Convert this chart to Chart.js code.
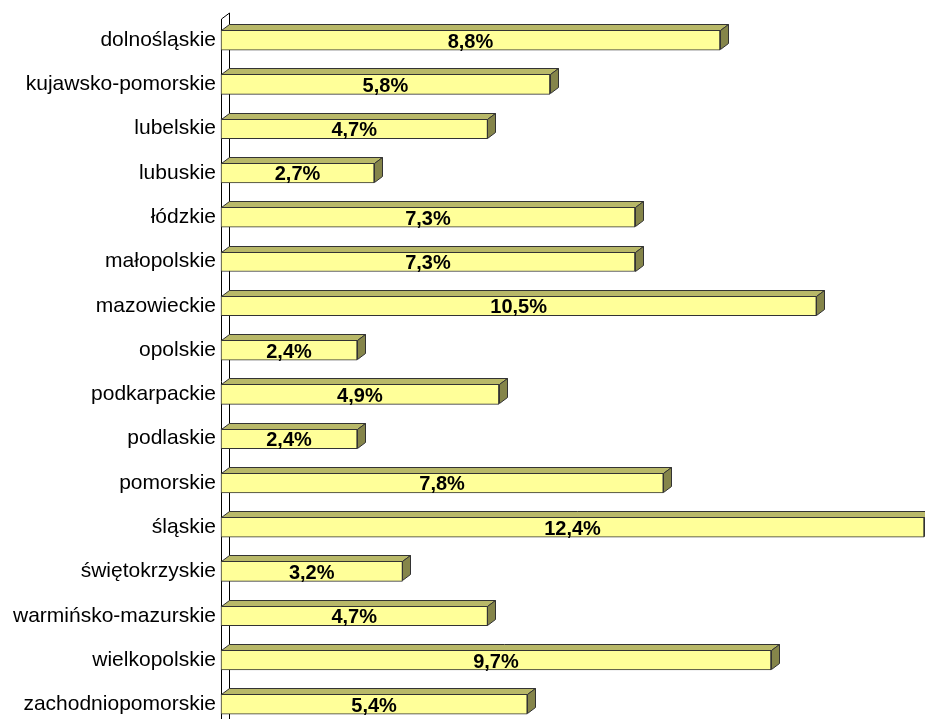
<!DOCTYPE html>
<html>
<head>
<meta charset="utf-8">
<script src="https://cdn.jsdelivr.net/npm/chart.js@4/dist/chart.umd.min.js"></script>
<style>
html,body{margin:0;padding:0;background:#fff;overflow:hidden;}
#wrap{width:925px;height:744px;}
</style>
</head>
<body>
<div id="wrap"><canvas id="c" width="925" height="744"></canvas></div>
<script>
const categories = ['dolnośląskie','kujawsko-pomorskie','lubelskie','lubuskie','łódzkie','małopolskie','mazowieckie','opolskie','podkarpackie','podlaskie','pomorskie','śląskie','świętokrzyskie','warmińsko-mazurskie','wielkopolskie','zachodniopomorskie'];
const values = [8.8,5.8,4.7,2.7,7.3,7.3,10.5,2.4,4.9,2.4,7.8,12.4,3.2,4.7,9.7,5.4];
const xMin = 0;
const xMax = 12.4;

const DX = 8, DY = 6;
const FRONT = '#FFFF99', TOP = '#B8B868', SIDE = '#85854A', EDGE = '#333333';

const wallPlugin = {
  id: 'wall',
  beforeDatasetsDraw(chart) {
    const ctx = chart.ctx, a = chart.chartArea;
    const x0 = a.left, yTop = a.top + 1;
    ctx.save();
    ctx.strokeStyle = '#000';
    ctx.lineWidth = 1;
    ctx.beginPath();
    ctx.moveTo(x0 + 0.5, chart.height);
    ctx.lineTo(x0 + 0.5, yTop);
    ctx.lineTo(x0 + DX + 0.5, yTop - DY);
    ctx.lineTo(x0 + DX + 0.5, chart.height);
    ctx.stroke();
    ctx.restore();
  }
};

const bar3dPlugin = {
  id: 'bar3d',
  afterDatasetsDraw(chart) {
    const ctx = chart.ctx;
    const meta = chart.getDatasetMeta(0);
    ctx.save();
    ctx.lineWidth = 1;
    ctx.strokeStyle = EDGE;
    meta.data.forEach((bar, i) => {
      const p = bar.getProps(['x','y','base','height'], true);
      const xb = Math.round(p.base) + 0.5, xv = Math.round(p.x) + 0.5;
      const yt = Math.round(p.y - p.height / 2) + 0.5, yb = Math.round(p.y + p.height / 2) - 0.5;
      ctx.beginPath();
      ctx.moveTo(xb, yt);
      ctx.lineTo(xv, yt);
      ctx.lineTo(xv + DX, yt - DY);
      ctx.lineTo(xb + DX, yt - DY);
      ctx.closePath();
      ctx.fillStyle = TOP; ctx.fill(); ctx.stroke();
      ctx.beginPath();
      ctx.moveTo(xv, yt);
      ctx.lineTo(xv + DX, yt - DY);
      ctx.lineTo(xv + DX, yb - DY);
      ctx.lineTo(xv, yb);
      ctx.closePath();
      ctx.fillStyle = SIDE; ctx.fill(); ctx.stroke();
      ctx.fillStyle = '#000';
      ctx.font = 'bold 20px "Liberation Sans", Arial, sans-serif';
      ctx.textAlign = 'center';
      ctx.textBaseline = 'middle';
      const txt = values[i].toFixed(1).replace('.', ',') + '%';
      ctx.fillText(txt, (p.base + p.x) / 2, p.y + 2);
    });
    ctx.restore();
  }
};

new Chart(document.getElementById('c'), {
  type: 'bar',
  data: {
    labels: categories,
    datasets: [{
      data: values,
      backgroundColor: FRONT,
      borderColor: EDGE,
      borderWidth: 1,
      borderSkipped: false,
      barThickness: 20,
      clip: false
    }]
  },
  options: {
    indexAxis: 'y',
    responsive: false,
    animation: false,
    devicePixelRatio: 1,
    layout: { padding: { top: 18, bottom: 2, left: 0, right: 1 } },
    plugins: { legend: { display: false }, tooltip: { enabled: false } },
    scales: {
      x: {
        display: false,
        min: xMin, max: xMax
      },
      y: {
        grid: { display: false, drawTicks: false },
        border: { display: false },
        ticks: {
          color: '#000',
          padding: 5,
          font: { family: '"Liberation Sans", Arial, sans-serif', size: 21 }
        },
        afterFit(scale) { scale.width = 221; }
      }
    }
  },
  plugins: [wallPlugin, bar3dPlugin]
});
</script>
</body>
</html>
